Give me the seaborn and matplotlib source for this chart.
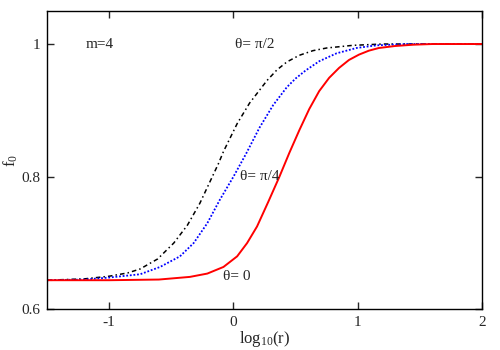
import pandas as pd
import numpy as np
import matplotlib
matplotlib.use('Agg')
import matplotlib.pyplot as plt
import seaborn as sns

# dados (theta = 0, pi/4, pi/2)
x_red = [-1.5, -1.0, -0.6, -0.35, -0.21, -0.08, 0.03, 0.11, 0.19, 0.28, 0.37, 0.45,
         0.53, 0.61, 0.69, 0.77, 0.85, 0.93, 1.01, 1.09, 1.17, 1.3, 1.45, 1.6, 2.0]
y_red = [0.644, 0.644, 0.645, 0.649, 0.654, 0.664, 0.680, 0.700, 0.725, 0.762, 0.800, 0.836,
         0.870, 0.902, 0.929, 0.949, 0.964, 0.976, 0.984, 0.990, 0.994, 0.997, 0.999, 1.0, 1.0]

x_blue = [-1.5, -1.2, -1.0, -0.75, -0.59, -0.43, -0.32, -0.21, -0.11, 0.0, 0.1, 0.21,
          0.32, 0.43, 0.5, 0.58, 0.69, 0.83, 0.99, 1.15, 1.4, 2.0]
y_blue = [0.644, 0.645, 0.648, 0.653, 0.664, 0.680, 0.700, 0.730, 0.765, 0.800, 0.834, 0.874,
          0.908, 0.935, 0.948, 0.960, 0.974, 0.986, 0.994, 0.998, 1.0, 1.0]

x_black = [-1.5, -1.2, -1.0, -0.85, -0.75, -0.61, -0.48, -0.37, -0.27, -0.19, -0.12, -0.08,
           0.03, 0.13, 0.27, 0.35, 0.43, 0.53, 0.64, 0.75, 0.96, 1.2, 2.0]
y_black = [0.644, 0.646, 0.650, 0.655, 0.661, 0.676, 0.700, 0.727, 0.760, 0.792, 0.820, 0.838,
           0.880, 0.911, 0.945, 0.961, 0.973, 0.983, 0.990, 0.994, 0.998, 1.0, 1.0]

x_ticks = [-1, 0, 1, 2]
x_ticklabels = ['-1', '0', '1', '2']
y_ticks = [0.6, 0.8, 1.0]
y_ticklabels = ['0.6', '0.8', '1']

sns.set_style('ticks')
plt.rcParams['font.family'] = ['Liberation Serif', 'DejaVu Serif']
plt.rcParams['mathtext.fontset'] = 'custom'
plt.rcParams['mathtext.rm'] = 'Liberation Serif'
plt.rcParams['mathtext.it'] = 'Liberation Serif'

fig = plt.figure(figsize=(5, 3.5), dpi=100)
ax = fig.add_axes([0.094, 0.116, 0.87, 0.853])

sns.lineplot(x=x_black, y=y_black, ax=ax, color='black', linewidth=1.1,
             linestyle=(0, (3, 2, 1, 2)), estimator=None)
sns.lineplot(x=x_blue, y=y_blue, ax=ax, color='blue', linewidth=1.3,
             linestyle=(0, (1, 1)), estimator=None)
sns.lineplot(x=x_red, y=y_red, ax=ax, color='red', linewidth=1.4,
             linestyle='-', estimator=None)

ax.set_xlim(-1.5, 2)
ax.set_ylim(0.6, 1.05)
ax.set_xticks(x_ticks)
ax.set_xticklabels(x_ticklabels)
ax.set_yticks(y_ticks)
ax.set_yticklabels(y_ticklabels)
ax.tick_params(direction='in', top=True, right=True, length=5, width=1, labelsize=11, pad=5)
for s in ax.spines.values():
    s.set_linewidth(1)
    s.set_color('black')

ax.set_xlabel(r'log$_{10}$(r)', fontsize=12, labelpad=0)
ax.set_ylabel(r'f$_0$', fontsize=12, labelpad=1)

ax.text(-1.19, 1.0, 'm=4', fontsize=11, va='center')
ax.text(0.01, 1.0, 'θ= π/2', fontsize=11, va='center')
ax.text(0.054, 0.80, 'θ= π/4', fontsize=11, va='center')
ax.text(-0.085, 0.650, 'θ= 0', fontsize=11, va='center')

fig.savefig('out.png', dpi=100)
